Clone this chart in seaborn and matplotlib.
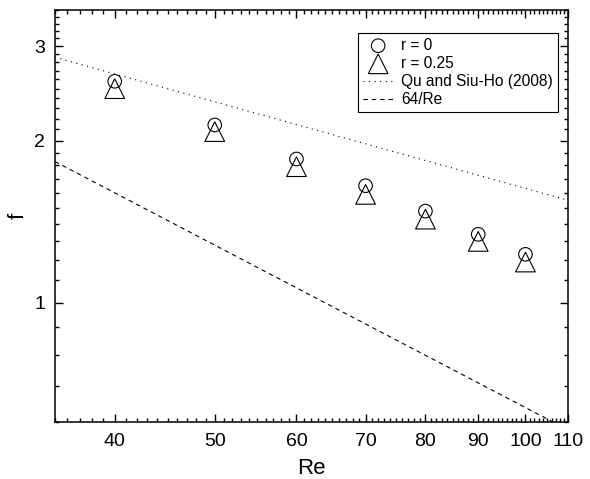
import numpy as np
import pandas as pd
import seaborn as sns
import matplotlib
matplotlib.use("Agg")
import matplotlib.pyplot as plt
from matplotlib.ticker import FixedLocator, MultipleLocator, NullFormatter, FormatStrFormatter

# data
re_pts = [40, 50, 60, 70, 80, 90, 100]
f_r0 = [2.58, 2.14, 1.85, 1.65, 1.48, 1.34, 1.23]
f_r025 = [2.50, 2.08, 1.79, 1.59, 1.43, 1.30, 1.19]

re_line = [35, 110]
f_qu = [2.86, 1.55]
f_lam = [1.83, 0.58]

x_ticks = [40, 50, 60, 70, 80, 90, 100, 110]
y_ticks = [1, 2, 3]

sns.set_style("ticks")
plt.rcParams['font.family'] = ['Liberation Sans', 'DejaVu Sans']
plt.rcParams['text.color'] = 'black'
plt.rcParams['axes.labelcolor'] = 'black'
plt.rcParams['xtick.color'] = 'black'
plt.rcParams['ytick.color'] = 'black'

fig = plt.figure(figsize=(5.9, 4.79), dpi=100)
ax = fig.add_axes([0.093, 0.119, 0.870, 0.860])

pts = pd.DataFrame({'Re': re_pts, 'r0': f_r0, 'r025': f_r025})
lines = pd.DataFrame({'Re': re_line, 'qu': f_qu, 'lam': f_lam})

sns.scatterplot(data=pts, x='Re', y='r0', marker='o', s=95, facecolor='none',
                edgecolor='black', linewidth=0.8, label='r = 0', ax=ax, zorder=3)
sns.scatterplot(data=pts, x='Re', y='r025', marker='^', s=200, facecolor='none',
                edgecolor='black', linewidth=0.8, label='r = 0.25', ax=ax, zorder=3)
sns.lineplot(data=lines, x='Re', y='qu', color='black', linewidth=0.8,
             label='Qu and Siu-Ho (2008)', ax=ax)
sns.lineplot(data=lines, x='Re', y='lam', color='black', linewidth=0.8,
             label='64/Re', ax=ax)
ax.lines[0].set_dashes([1, 4])
ax.lines[1].set_dashes([4, 3.5])

ax.set_xscale('log')
ax.set_yscale('log')
ax.set_xlim(35, 110)
ax.set_ylim(0.6, 3.5)

ax.xaxis.set_major_locator(FixedLocator(x_ticks))
ax.xaxis.set_major_formatter(FormatStrFormatter('%d'))
ax.xaxis.set_minor_locator(MultipleLocator(1))
ax.xaxis.set_minor_formatter(NullFormatter())
ax.yaxis.set_major_locator(FixedLocator(y_ticks))
ax.yaxis.set_major_formatter(FormatStrFormatter('%d'))
ax.yaxis.set_minor_locator(MultipleLocator(0.1))
ax.yaxis.set_minor_formatter(NullFormatter())

ax.tick_params(which='both', direction='in', top=True, right=True,
               labelsize=14, width=1.0, color='black', labelcolor='black')
ax.tick_params(which='major', length=5.5)
ax.tick_params(which='minor', length=3)
ax.tick_params(axis='x', pad=8)
ax.tick_params(axis='y', pad=7)
for s in ax.spines.values():
    s.set_linewidth(1.1)
    s.set_color('black')

ax.set_xlabel('Re', fontsize=16, labelpad=6)
ax.set_ylabel('f', fontsize=16, labelpad=4)

leg = ax.legend(loc='upper right', bbox_to_anchor=(0.98, 0.944), borderaxespad=0,
                fontsize=11.2, frameon=True, fancybox=False, edgecolor='black',
                framealpha=1, handlelength=2.0, handletextpad=0.5,
                labelspacing=0.2, borderpad=0.3)
leg.get_frame().set_linewidth(0.8)

fig.savefig('out.png', dpi=100)
